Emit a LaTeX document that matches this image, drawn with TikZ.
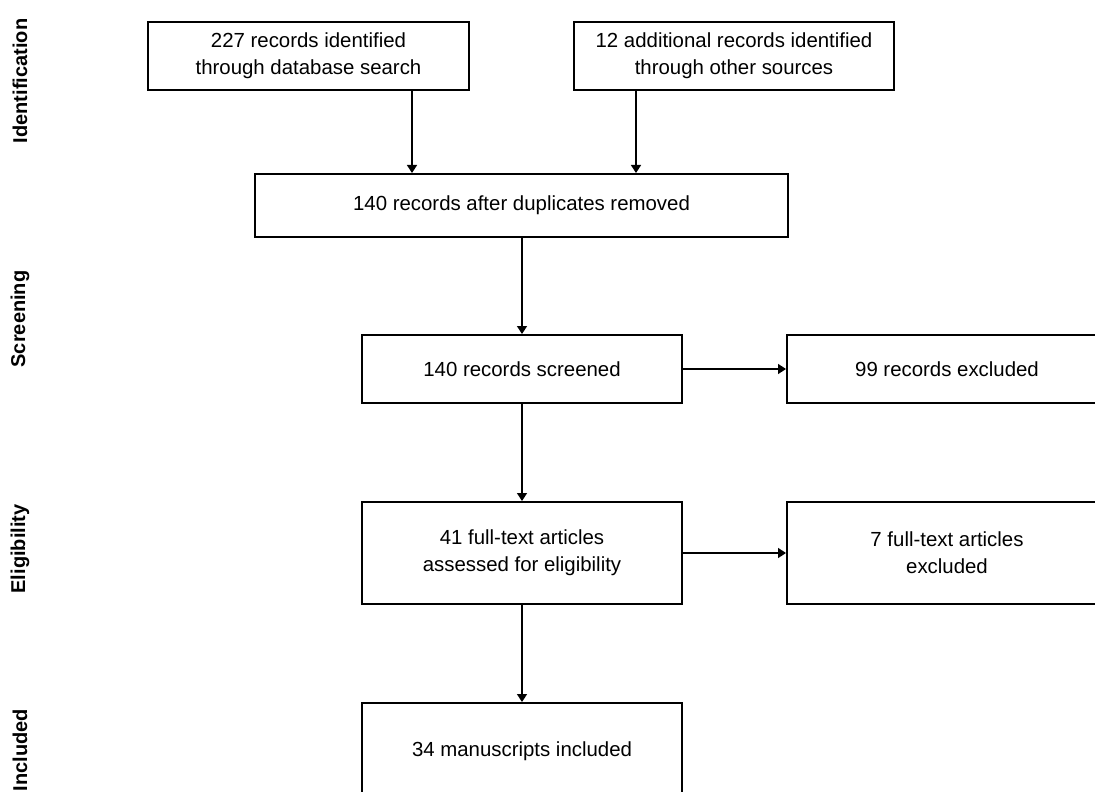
\documentclass[tikz,border=0pt]{standalone}
\usepackage{fontspec}
\setmainfont{Liberation Sans}
\usetikzlibrary{positioning,arrows.meta}

\begin{document}
\begin{tikzpicture}[
    x=0.5pt, y=-0.5pt,
    box/.style={
        rectangle,
        draw=black,
        line width=1pt,
        minimum width=160pt,
        minimum height=34pt,
        inner sep=0pt,
        text centered,
        anchor=north,
        align=center,
        font=\fontsize{10.2}{13.7}\selectfont
    },
    phase/.style={
        rotate=90,
        font=\fontsize{10}{12}\selectfont\bfseries
    },
    link/.style={
        line width=0.7pt,
        -{Triangle[length=4pt,width=5pt]}
    }
]
    \useasboundingbox (0,0) rectangle (1095,791);
    \clip (0,0) rectangle (1095,791);

    \node (ident) [phase] at (20,81) {Identification};
    \node (scr) [phase] at (20,319) {Screening};
    \node (elig) [phase] at (20,549) {Eligibility};
    \node (inc) [phase] at (20,750) {Included};

    \node (db) [box, minimum width=160.5pt] at (308.5,21) {227 records identified\\through database search};
    \node (other) [box] at (734,21) {12 additional records identified\\through other sources};
    \node (dup) [box, minimum width=266.5pt, minimum height=31.5pt] at (521.5,173) {140 records after duplicates removed};
    \node (screen) [box] at (522,334) {140 records screened};
    \node (excl) [box] at (947,334) {99 records excluded};
    \node (full) [box, minimum height=51pt] at (522,501) {41 full-text articles\\assessed for eligibility};
    \node (fexcl) [box, minimum height=51pt] at (947,501) {7 full-text articles\\excluded};
    \node (incl) [box, minimum height=48pt] at (522,702) {34 manuscripts included};

    \coordinate (c1) at (412,0);
    \coordinate (c2) at (636,0);
    \draw [link] (db.south -| c1) -- (dup.north -| c1);
    \draw [link] (other.south -| c2) -- (dup.north -| c2);
    \draw [link] (dup.south -| screen.north) -- (screen.north);
    \draw [link] (screen.east) -- (excl.west);
    \draw [link] (screen.south) -- (full.north);
    \draw [link] (full.east) -- (fexcl.west);
    \draw [link] (full.south) -- (incl.north);
\end{tikzpicture}
\end{document}
